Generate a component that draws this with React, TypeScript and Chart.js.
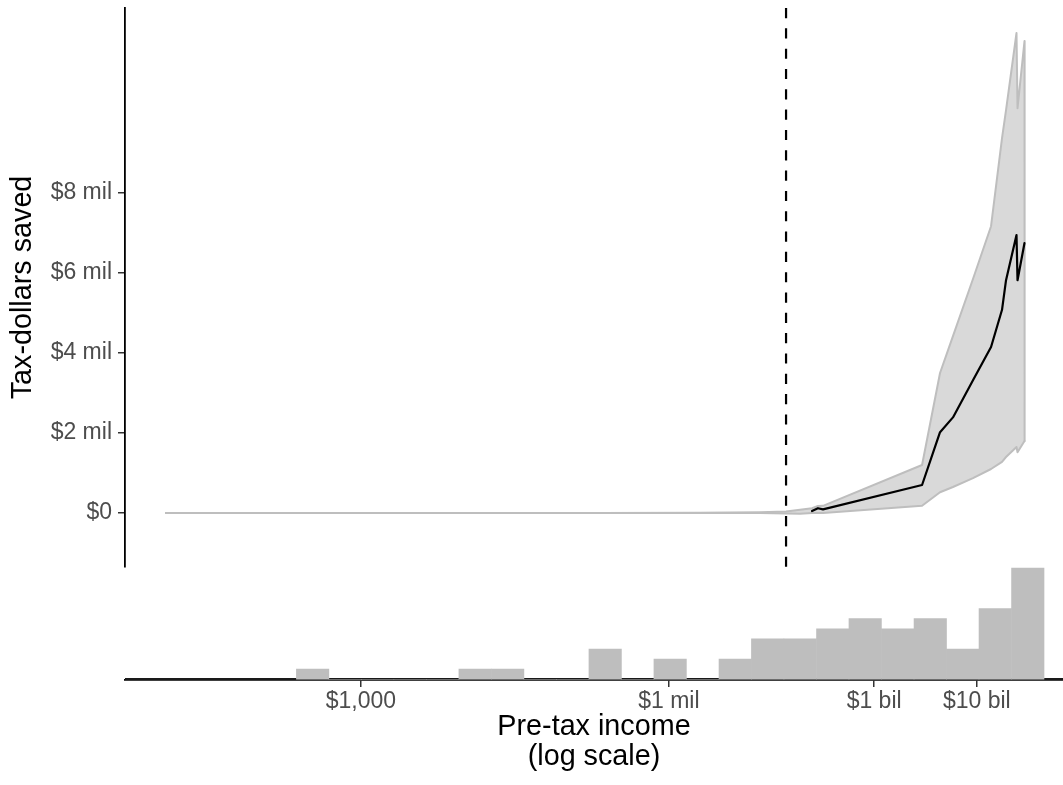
import React, { useEffect, useRef } from "react";
import { Chart, registerables } from "chart.js";

Chart.register(...registerables);

const FONT = "'Liberation Sans', Arial, Helvetica, sans-serif";

// Shared horizontal axis: log10 of pre-tax income
const xMin = 1.702;
const xMax = 10.84;
const xTickValues = [4, 7, 9, 10];
const xTickLabels = ["$1,000", "$1 mil", "$1 bil", "$10 bil"];

// Income cut-off marked by the dashed vertical line (log10 units)
const cutoff = 8.142;

// Top panel: tax dollars saved (millions) by income
const incomeLog = [
  2.1, 3.406, 4.868, 6.329, 7.304, 7.888, 8.142, 8.278, 8.395, 8.453, 8.502,
  9.467, 9.642, 9.768, 9.963, 10.139, 10.246, 10.285, 10.387, 10.397, 10.465, 10.466,
];
const savedMean = [
  null, null, null, null, null, null, null, null, 0.05, 0.12, 0.09,
  0.7, 2.02, 2.39, 3.32, 4.15, 5.08, 5.82, 6.95, 5.82, 6.75, null,
];
const savedUpper = [
  0, 0, 0, 0, 0.005, 0.02, 0.04, 0.08, 0.12, 0.175, 0.18,
  1.2, 3.5, 4.42, 5.85, 7.17, 9.37, 10.07, 12.0, 10.12, 11.8, 1.8,
];
const savedLower = [
  0, 0, 0, 0, 0, 0, -0.01, -0.02, 0, 0, 0,
  0.18, 0.52, 0.65, 0.87, 1.1, 1.28, 1.4, 1.65, 1.52, 1.8, 1.8,
];
const yMin = -1.35;
const yMax = 12.625;
const yTickValues = [0, 2, 4, 6, 8];
const yTickLabels = ["$0", "$2 mil", "$4 mil", "$6 mil", "$8 mil"];

// Bottom panel: histogram of incomes (bin centres in log10 units, counts)
const binCenters = [
  3.53, 3.847, 4.163, 4.48, 4.797, 5.113, 5.43, 5.747, 6.063, 6.38, 6.697, 7.013,
  7.33, 7.647, 7.963, 8.28, 8.597, 8.913, 9.23, 9.547, 9.863, 10.18, 10.497,
];
const binCounts = [1, 0, 0, 0, 0, 1, 1, 0, 0, 3, 0, 2, 0, 2, 4, 4, 5, 6, 5, 6, 3, 7, 11];

const tickFont = { family: FONT, size: 23, lineHeight: 1.2 };
const titleSize = 28.75;

// Keep tick labels from pushing the plotting area inwards
const clearPadding = (s: any) => {
  s.paddingTop = 0;
  s.paddingBottom = 0;
  s.paddingLeft = 0;
  s.paddingRight = 0;
};

export default function App() {
  const topRef = useRef<HTMLCanvasElement | null>(null);
  const bottomRef = useRef<HTMLCanvasElement | null>(null);

  useEffect(() => {
    if (!topRef.current || !bottomRef.current) return;
    Chart.defaults.font.family = FONT;

    const top = new Chart(topRef.current, {
      type: "line",
      data: {
        datasets: [
          {
            data: incomeLog.map((x, i) => ({ x, y: savedUpper[i] })),
            borderColor: "#bebebe",
            borderWidth: 2,
            backgroundColor: "#d9d9d9",
            fill: 1,
            order: 3,
            pointRadius: 0,
            borderJoinStyle: "round",
            borderCapStyle: "round",
          },
          {
            data: incomeLog.map((x, i) => ({ x, y: savedLower[i] })),
            borderColor: "#bebebe",
            borderWidth: 2,
            fill: false,
            order: 2,
            pointRadius: 0,
            borderJoinStyle: "round",
            borderCapStyle: "round",
          },
          {
            data: incomeLog.map((x, i) => ({ x, y: savedMean[i] })),
            borderColor: "#000000",
            borderWidth: 2.2,
            fill: false,
            order: 1,
            pointRadius: 0,
            spanGaps: false,
            borderJoinStyle: "round",
            borderCapStyle: "round",
          },
          {
            // cut-off line, drawn top to bottom
            data: [
              { x: cutoff, y: yMax },
              { x: cutoff, y: yMin },
            ],
            borderColor: "#000000",
            borderWidth: 2.2,
            borderDash: [10.16, 10.16],
            fill: false,
            order: 0,
            pointRadius: 0,
          },
        ],
      },
      options: {
        responsive: false,
        animation: false,
        devicePixelRatio: 1,
        layout: { padding: { top: 8, bottom: 1, left: 0, right: 0 } },
        plugins: { legend: { display: false }, tooltip: { enabled: false } },
        elements: { line: { tension: 0 }, point: { radius: 0 } },
        scales: {
          x: { type: "linear", display: false, min: xMin, max: xMax },
          y: {
            type: "linear",
            min: yMin,
            max: yMax,
            afterFit: (s: any) => {
              s.width = 125;
              clearPadding(s);
            },
            afterBuildTicks: (s: any) => {
              s.ticks = yTickValues.map((v) => ({ value: v }));
            },
            ticks: {
              autoSkip: false,
              callback: (_v: any, i: number) => yTickLabels[i],
              color: "#4d4d4d",
              font: tickFont,
              padding: 6,
            },
            grid: {
              display: true,
              drawOnChartArea: false,
              drawTicks: true,
              tickLength: 7,
              color: "#333333",
              lineWidth: 1.5,
            },
            border: { display: true, color: "#000000", width: 1.8 },
            title: {
              display: true,
              text: "Tax-dollars saved",
              color: "#000000",
              font: { family: FONT, size: titleSize, lineHeight: 1.2 },
              padding: { top: 5.6, bottom: 0 },
            },
          },
        },
      },
    } as any);

    const bottom = new Chart(bottomRef.current, {
      type: "bar",
      data: {
        datasets: [
          {
            type: "bar",
            data: binCenters.map((x, i) => ({ x, y: binCounts[i] })),
            backgroundColor: "#bebebe",
            borderWidth: 0,
            barPercentage: 1,
            categoryPercentage: 1,
            order: 1,
          },
          {
            type: "line",
            data: [
              { x: xMin, y: 0 },
              { x: xMax, y: 0 },
            ],
            borderColor: "#1a1a1a",
            borderWidth: 2.6,
            pointRadius: 0,
            fill: false,
            order: 2,
          },
        ],
      },
      options: {
        responsive: false,
        animation: false,
        devicePixelRatio: 1,
        layout: { padding: { top: 3, left: 125, right: 0, bottom: 0 } },
        plugins: { legend: { display: false }, tooltip: { enabled: false } },
        scales: {
          x: {
            type: "linear",
            position: "bottom",
            min: xMin,
            max: xMax,
            offset: false,
            afterFit: (s: any) => {
              s.height = 105;
              clearPadding(s);
            },
            afterBuildTicks: (s: any) => {
              s.ticks = xTickValues.map((v) => ({ value: v }));
            },
            ticks: {
              autoSkip: false,
              maxRotation: 0,
              callback: (_v: any, i: number) => xTickLabels[i],
              color: "#4d4d4d",
              font: tickFont,
              padding: 1,
            },
            grid: {
              display: true,
              offset: false,
              drawOnChartArea: false,
              drawTicks: true,
              tickLength: 7,
              color: "#333333",
              lineWidth: 1.5,
            },
            border: { display: true, color: "#000000", width: 1.8 },
            title: {
              display: true,
              text: ["Pre-tax income", "(log scale)"],
              color: "#000000",
              font: { family: FONT, size: titleSize, lineHeight: 1.04 },
              padding: { top: 0, bottom: 13 },
            },
          },
          y: { display: false, min: -0.07, max: 11.51 },
        },
      },
    } as any);

    return () => {
      top.destroy();
      bottom.destroy();
    };
  }, []);

  return (
    <div
      style={{
        position: "absolute",
        left: 0,
        top: 0,
        width: 1063,
        height: 785,
        background: "#ffffff",
        overflow: "hidden",
      }}
    >
      <canvas
        ref={topRef}
        width={1063}
        height={568}
        style={{ position: "absolute", left: 0, top: 0, width: 1063, height: 568 }}
      />
      <canvas
        ref={bottomRef}
        width={1063}
        height={225}
        style={{ position: "absolute", left: 0, top: 560, width: 1063, height: 225 }}
      />
    </div>
  );
}
